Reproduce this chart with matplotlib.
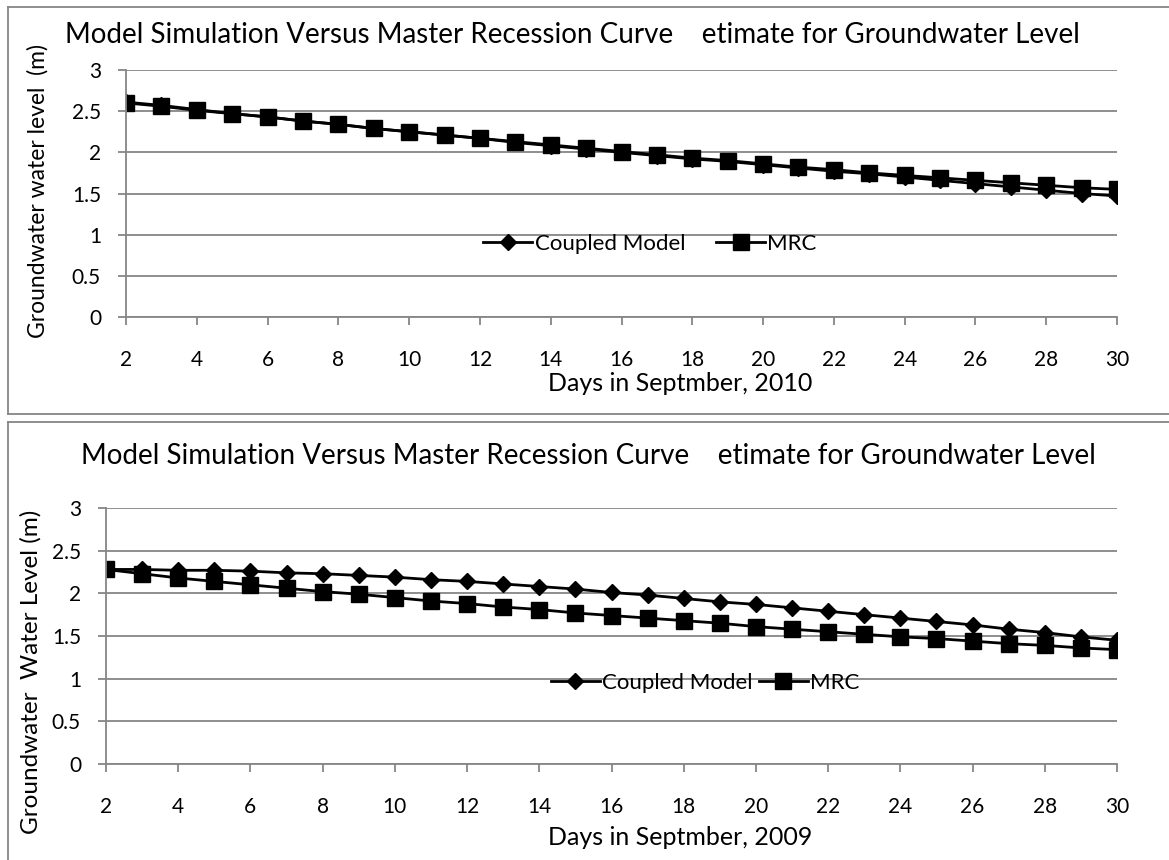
import matplotlib
matplotlib.use("Agg")
from matplotlib import pyplot as plt
from matplotlib.lines import Line2D

plt.rcParams["font.family"] = ["Lato", "DejaVu Sans"]

# Data
days = list(range(2, 31))

coupled_2010 = [2.61, 2.57, 2.52, 2.47, 2.43, 2.38, 2.34, 2.29, 2.25, 2.21,
                2.17, 2.12, 2.08, 2.04, 2.00, 1.96, 1.92, 1.89, 1.85, 1.81,
                1.77, 1.74, 1.70, 1.66, 1.62, 1.58, 1.54, 1.50, 1.47]
mrc_2010 = [2.60, 2.56, 2.51, 2.47, 2.43, 2.38, 2.34, 2.29, 2.25, 2.21,
            2.17, 2.13, 2.09, 2.05, 2.01, 1.97, 1.93, 1.90, 1.86, 1.82,
            1.79, 1.75, 1.72, 1.69, 1.66, 1.63, 1.60, 1.57, 1.55]

coupled_2009 = [2.28, 2.28, 2.27, 2.27, 2.26, 2.24, 2.23, 2.21, 2.19, 2.16,
                2.14, 2.11, 2.08, 2.05, 2.01, 1.98, 1.94, 1.90, 1.87, 1.83,
                1.79, 1.75, 1.71, 1.67, 1.63, 1.58, 1.54, 1.49, 1.45]
mrc_2009 = [2.28, 2.23, 2.18, 2.14, 2.10, 2.06, 2.02, 1.99, 1.95, 1.91,
            1.88, 1.84, 1.81, 1.77, 1.74, 1.71, 1.68, 1.65, 1.61, 1.58,
            1.55, 1.52, 1.49, 1.47, 1.44, 1.41, 1.39, 1.36, 1.34]

title = "Model Simulation Versus Master Recession Curve    etimate for Groundwater Level"
x_ticks = list(range(2, 31, 2))
y_ticks = [0, 0.5, 1, 1.5, 2, 2.5, 3]
y_tick_labels = ["0", "0.5", "1", "1.5", "2", "2.5", "3"]

W, H = 1169, 860
fig = plt.figure(figsize=(W / 100, H / 100), dpi=100)
grey = "#868686"


def px_axes(left, top, right, bottom):
    return fig.add_axes([left / W, 1 - bottom / H, (right - left) / W, (bottom - top) / H])


def draw_panel(ax, coupled, mrc, ylabel, ylab_size, xlabel, ylab_xy, xlab_xy,
               legend_xy, colspace):
    ax.plot(days, coupled, color="black", lw=2, marker="D", ms=8.5, label="Coupled Model")
    ax.plot(days, mrc, color="black", lw=2, marker="s", ms=11, label="MRC")
    ax.set_xlim(2, 30)
    ax.set_ylim(0, 3)
    ax.set_xticks(x_ticks)
    ax.set_yticks(y_ticks)
    ax.set_yticklabels(y_tick_labels)
    ax.grid(axis="y", color=grey, lw=1.3)
    ax.set_axisbelow(True)
    for side in ["top", "right"]:
        ax.spines[side].set_visible(False)
    for side in ["left", "bottom"]:
        ax.spines[side].set_color(grey)
        ax.spines[side].set_linewidth(1.3)
    ax.tick_params(axis="both", colors=grey, labelcolor="black", labelsize=15, length=6, width=1.3)
    ax.tick_params(axis="x", pad=18)
    ax.tick_params(axis="y", pad=12)
    ax.set_ylabel(ylabel, fontsize=ylab_size, ha="center", va="center")
    ax.yaxis.set_label_coords(*ylab_xy)
    ax.set_xlabel(xlabel, fontsize=18, ha="center", va="center")
    ax.xaxis.set_label_coords(*xlab_xy)
    ax.legend(loc="center", bbox_to_anchor=legend_xy, bbox_transform=fig.transFigure,
              ncol=2, frameon=False, fontsize=16, handlelength=2.2,
              handletextpad=0.1, columnspacing=colspace)


ax1 = px_axes(126, 70, 1117, 317)
draw_panel(ax1, coupled_2010, mrc_2010, "Groundwater water level  (m)", 16.5,
           "Days in Septmber, 2010", (-0.089, 0.51), (0.559, -0.271),
           (650 / W, 1 - 244 / H), 1.4)
fig.text(572 / W, 1 - 43 / H, title, ha="center", va="baseline", fontsize=20)

ax2 = px_axes(106, 508, 1117, 764)
draw_panel(ax2, coupled_2009, mrc_2009, "Groundwater  Water Level (m)", 17.5,
           "Days in Septmber, 2009", (-0.074, 0.36), (0.568, -0.289),
           (705 / W, 1 - 683 / H), 0.3)
fig.text(588 / W, 1 - 464 / H, title, ha="center", va="baseline", fontsize=20)

# Chart area borders
border = dict(color=grey, lw=1.3, transform=fig.transFigure)
fig.add_artist(Line2D([8 / W, 1], [1 - 7 / H, 1 - 7 / H], **border))
fig.add_artist(Line2D([8 / W, 8 / W], [1 - 7 / H, 1 - 414 / H], **border))
fig.add_artist(Line2D([8 / W, 1], [1 - 414 / H, 1 - 414 / H], **border))
fig.add_artist(Line2D([8 / W, 1], [1 - 422 / H, 1 - 422 / H], **border))
fig.add_artist(Line2D([8 / W, 8 / W], [1 - 422 / H, 0], **border))

fig.savefig("out.png", dpi=100)
